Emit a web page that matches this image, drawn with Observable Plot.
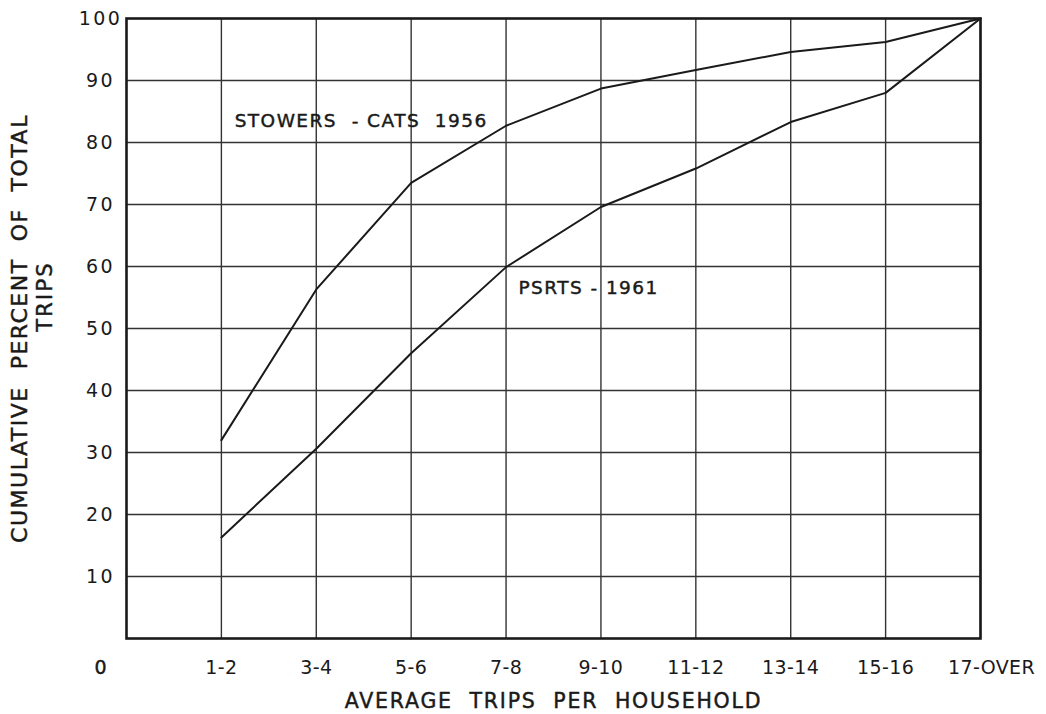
<!DOCTYPE html>
<html>
<head>
<meta charset="utf-8">
<script src="https://cdn.jsdelivr.net/npm/d3@7"></script>
<script src="https://cdn.jsdelivr.net/npm/@observablehq/plot@0.6"></script>
<style>
  html, body { margin: 0; padding: 0; background: #fff; }
  #chart svg { display: block; }
</style>
</head>
<body>
<div id="chart"></div>
<script>
const categories = ["1-2", "3-4", "5-6", "7-8", "9-10", "11-12", "13-14", "15-16", "17-OVER"];
const stowers = [32, 56.3, 73.5, 82.7, 88.7, 91.7, 94.6, 96.2, 100];
const psrts = [16.3, 30.6, 46.0, 59.9, 69.6, 75.8, 83.3, 88.0, 100];
const yTicks = [10, 20, 30, 40, 50, 60, 70, 80, 90, 100];
const seriesLabels = [
  {text: "STOWERS  - CATS  1956", x: 1.14, y: 83.4},
  {text: "PSRTS - 1961", x: 4.13, y: 56.6}
];

const rows = (vals, name) => vals.map((v, i) => ({x: i + 1, y: v, series: name}));
const data = [...rows(stowers, "STOWERS"), ...rows(psrts, "PSRTS")];
const font = "DejaVu Sans, sans-serif";
const ink = "#1a1a1a";
const textInk = {fill: ink, stroke: ink, strokeWidth: 0.45};
const xTickOpts = {label: null, tickSize: 0, tickPadding: 22, tickFormat: (d) => categories[d - 1], fontSize: 19, ...textInk};

const plot = Plot.plot({
  width: 1046,
  height: 714,
  marginLeft: 126,
  marginRight: 66,
  marginTop: 18,
  marginBottom: 76,
  style: {fontFamily: font, fontSize: "17px", color: ink, background: "#fff"},
  x: {domain: [0, 9], axis: null},
  y: {domain: [0, 100], axis: null},
  marks: [
    Plot.gridX(d3.range(1, 10), {stroke: "#333", strokeOpacity: 1, strokeWidth: 1.4}),
    Plot.gridY(yTicks.slice(0, -1), {stroke: "#333", strokeOpacity: 1, strokeWidth: 1.4}),
    Plot.axisX(d3.range(1, 9), xTickOpts),
    Plot.axisX([9], {...xTickOpts, dx: 11}),
    Plot.axisY(yTicks, {
      label: null, tickSize: 0, tickPadding: 3, textAnchor: "middle", dx: -23,
      fontSize: 19, ...textInk
    }),
    Plot.text(["0"], {x: 0, y: 0, dx: -26, dy: 29, fontSize: 19, ...textInk}),
    Plot.line(data, {x: "x", y: "y", z: "series", stroke: ink, strokeWidth: 2}),
    Plot.text(seriesLabels, {x: "x", y: "y", text: "text", textAnchor: "start", fontSize: 18.5, ...textInk}),
    Plot.text(["AVERAGE  TRIPS  PER  HOUSEHOLD"], {frameAnchor: "bottom", dy: 69, fontSize: 20.5, ...textInk}),
    Plot.text(["CUMULATIVE  PERCENT  OF  TOTAL"], {frameAnchor: "left", textAnchor: "middle", rotate: -90, dx: -107, fontSize: 22, ...textInk}),
    Plot.text(["TRIPS"], {frameAnchor: "left", textAnchor: "middle", rotate: -90, dx: -81, dy: -32, fontSize: 21, ...textInk}),
    Plot.frame({stroke: ink, strokeWidth: 2.6})
  ]
});
// letter spacing for the hand-lettered look (text marks in the order declared above)
const textSpacing = [0, 1.45, 1.8, 1.5, 2.2];
d3.select(plot).selectAll('g[aria-label="text"]').each(function (_, i) {
  d3.select(this).selectAll("text").style("letter-spacing", `${textSpacing[i] ?? 0}px`);
});
d3.select(plot).selectAll('g[aria-label="x-axis tick label"] text').style("letter-spacing", "0.4px");
d3.select(plot).selectAll('g[aria-label="y-axis tick label"] text').style("letter-spacing", "2.5px");
document.getElementById("chart").appendChild(plot);
</script>
</body>
</html>
